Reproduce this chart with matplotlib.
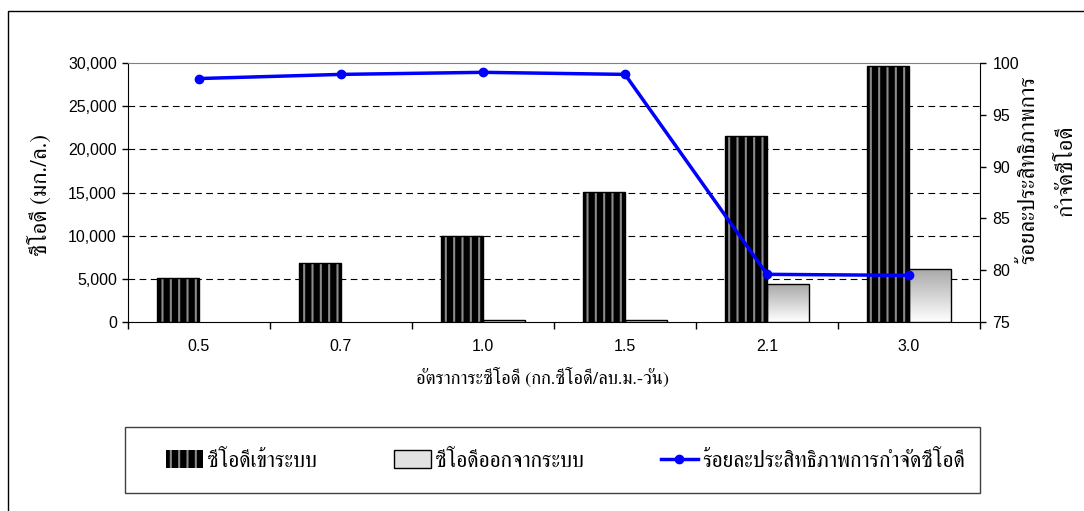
import numpy as np
import matplotlib
matplotlib.use('Agg')
import matplotlib.pyplot as plt
from matplotlib.patches import Patch, Rectangle
from matplotlib.lines import Line2D
from matplotlib.ticker import FuncFormatter

# COD loading rates and measured values
rates = ['0.5', '0.7', '1.0', '1.5', '2.1', '3.0']
cod_in = [5100, 6850, 10000, 15100, 21550, 29600]
cod_out = [0, 0, 200, 200, 4400, 6100]
removal = [98.5, 98.9, 99.1, 98.9, 79.6, 79.5]

thai = ['FreeSerif', 'DejaVu Sans']
plt.rcParams['font.family'] = ['Liberation Sans', 'DejaVu Sans']
plt.rcParams['hatch.linewidth'] = 1.5

fig = plt.figure(figsize=(10.84, 5.11), dpi=100)
ax = fig.add_axes([128 / 1084, 1 - 322 / 511, 852 / 1084, 259 / 511])

x = np.arange(len(rates))
w = 0.296

# inlet COD: black bars with grey vertical stripes
ax.bar(x - w / 2, cod_in, w, color='black', edgecolor='#8a8a8a', hatch='||', linewidth=0, zorder=3)
ax.bar(x - w / 2, cod_in, w, fill=False, edgecolor='black', linewidth=1, zorder=4)

# outlet COD: grey-to-white gradient bars
out_bars = ax.bar(x + w / 2, cod_out, w, facecolor='none', edgecolor='black', linewidth=1, zorder=4)
grad = np.linspace(0.66, 1.0, 256).reshape(-1, 1)
for b in out_bars:
    if b.get_height() <= 0:
        b.set_visible(False)
        continue
    im = ax.imshow(grad, cmap='gray', vmin=0, vmax=1, aspect='auto', origin='upper',
                   extent=[b.get_x(), b.get_x() + b.get_width(), 0, b.get_height()], zorder=3)
    im.set_clip_path(b)

ax.set_xlim(-0.5, len(rates) - 0.5)
ax.set_ylim(0, 30000)
ax.set_yticks(np.arange(0, 30001, 5000))
ax.yaxis.set_major_formatter(FuncFormatter(lambda v, p: f'{int(v):,}'))
ax.set_xticks(x)
ax.set_xticklabels(rates)
ax.set_xticks(np.arange(-0.5, len(rates), 1), minor=True)
ax.tick_params(axis='x', which='major', length=0, pad=12, labelsize=11.5)
ax.tick_params(axis='x', which='minor', length=5, direction='out', width=1)
ax.tick_params(axis='y', length=4, direction='out', pad=4, labelsize=11.5, width=1)

ax.yaxis.grid(True, linestyle=(0, (6, 4)), color='black', linewidth=0.8)
ax.set_axisbelow(True)
gl = ax.get_ygridlines()
gl[0].set_visible(False)
gl[-1].set_visible(False)

ax.spines['top'].set_color('#808080')
ax.spines['right'].set_visible(False)
ax.spines['left'].set_color('black')
ax.spines['bottom'].set_color('black')

# removal efficiency on the right axis
ax2 = ax.twinx()
ax2.plot(x, removal, color='#0000ff', linewidth=2.5, marker='o', markersize=6, zorder=5)
ax2.set_ylim(75, 100)
ax2.set_yticks(np.arange(75, 101, 5))
ax2.tick_params(axis='y', length=4, direction='out', pad=5, labelsize=11.5, width=1)
for s in ['top', 'left', 'bottom']:
    ax2.spines[s].set_visible(False)
ax2.spines['right'].set_color('black')

fig.text(40 / 1084, 1 - 195 / 511, 'ซีโอดี (มก./ล.)', rotation=90, ha='center', va='center',
         family=thai, fontsize=16.5)
fig.text(1047.5 / 1084, 1 - 170 / 511, 'ร้อยละประสิทธิภาพการ\nกำจัดซีโอดี', rotation=90,
         ha='center', va='center', multialignment='center', linespacing=2.0,
         family=thai, fontsize=16.5)
fig.text(543 / 1084, 1 - 378 / 511, 'อัตราการะซีโอดี (กก.ซีโอดี/ลบ.ม.-วัน)', ha='center', va='center',
         family=thai, fontsize=13.2)

handles = [
    Patch(facecolor='black', edgecolor='#8a8a8a', hatch='||', linewidth=0),
    Patch(facecolor='#e2e2e2', edgecolor='black', linewidth=1),
    Line2D([], [], color='#0000ff', linewidth=2.5, marker='o', markersize=6),
]
labels = ['ซีโอดีเข้าระบบ', 'ซีโอดีออกจากระบบ', 'ร้อยละประสิทธิภาพการกำจัดซีโอดี']
fig.legend(handles, labels, ncol=3, loc='center left', frameon=False,
           bbox_to_anchor=(166 / 1084, 1 - 461 / 511), borderaxespad=0, borderpad=0,
           prop={'family': thai, 'size': 15.5}, handlelength=1.7, handleheight=0.88,
           handletextpad=0.19, columnspacing=3.6, numpoints=1)

# legend box and outer frame
fig.add_artist(Rectangle((125 / 1084, 1 - 493 / 511), 855 / 1084, 66 / 511, transform=fig.transFigure,
                         fill=False, edgecolor='#404040', linewidth=1))
fig.add_artist(Rectangle((7.5 / 1084, -0.1), 1.2, 1.1 - 11.5 / 511, transform=fig.transFigure,
                         fill=False, edgecolor='black', linewidth=1))

fig.savefig('out.png', dpi=100)
